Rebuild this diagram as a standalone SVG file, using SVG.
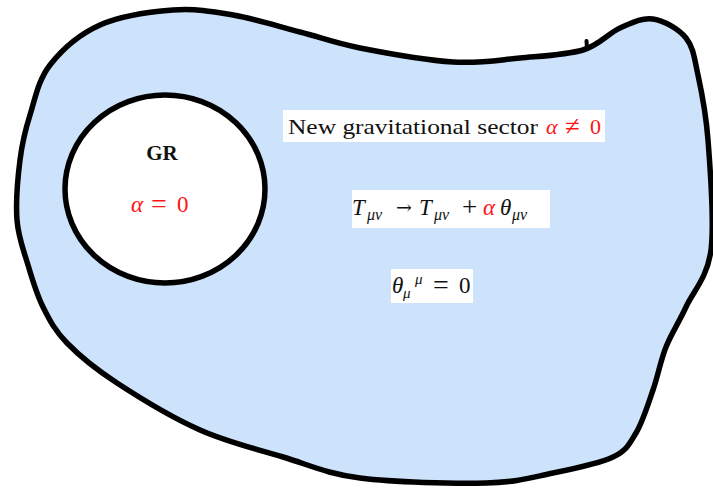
<svg xmlns="http://www.w3.org/2000/svg" width="713" height="489" viewBox="0 0 713 489">
<style>
.outline{stroke:#000;stroke-width:5.5;stroke-linejoin:round;stroke-linecap:round}
.box{fill:#fff}
.t{font-family:"Liberation Serif","DejaVu Serif",serif;fill:#111}
.m{font-family:"Liberation Serif","DejaVu Serif",serif;font-style:italic;fill:#111}
.r{fill:#ff1414}
</style>
<rect width="713" height="489" fill="#fff"/>
<g id="new-sector">
<path class="outline" fill="#cde3fb" d="M173,10 C195.2,8.3 211.8,11.3 233,15 C254.2,18.7 278.8,26.5 300,32 C321.2,37.5 334.5,43 360,48 C385.5,53 426.3,60.3 453,62 C479.7,63.7 498.3,60 520,58 C541.7,56 566.3,55 583,50 C599.7,45 608.3,33.2 620,28 C631.7,22.8 642,17.3 653,19 C664,20.7 678.5,28.7 686,38 C693.5,47.3 694.3,58 698,75 C701.7,92 705.8,110.8 708,140 C710.2,169.2 714.7,222.2 711,250 C707.3,277.8 693.5,290.8 686,307 C678.5,323.2 671.5,333.2 666,347 C660.5,360.8 658,375.7 653,390 C648,404.3 642.7,421.8 636,433 C629.3,444.2 626.8,450.3 613,457 C599.2,463.7 574.2,468.7 553,473 C531.8,477.3 518.2,482.2 486,483 C453.8,483.8 393.8,482.3 360,478 C326.2,473.7 309.7,465 283,457 C256.3,449 227.7,442.3 200,430 C172.3,417.7 139.2,397.5 117,383 C94.8,368.5 79.3,355.7 67,343 C54.7,330.3 49.5,320 43,307 C36.5,294 32.3,279.5 28,265 C23.7,250.5 18.3,237.5 17,220 C15.7,202.5 17.8,177.5 20,160 C22.2,142.5 25,130.8 30,115 C35,99.2 38.3,80 50,65 C61.7,50 79.5,34.2 100,25 C120.5,15.8 150.8,11.7 173,10 Z"/>
<path d="M587,48 L586.5,41" stroke="#000" stroke-width="4" stroke-linecap="round" fill="none"/>
</g>
<g id="gr-region">
<ellipse class="outline" fill="#fff" cx="165" cy="189" rx="100" ry="94"/>
<text class="t" x="162" y="160" font-size="21" font-weight="bold" text-anchor="middle">GR</text>
<text class="m r" x="131" y="212" font-size="23">α</text>
<text class="t r" x="151" y="213" font-size="28">=</text>
<text class="t r" x="177" y="212" font-size="23">0</text>
</g>
<g id="label-sector">
<rect class="box" x="283" y="110" width="322" height="32"/>
<text class="t" x="288" y="134" font-size="21" textLength="250" lengthAdjust="spacingAndGlyphs">New gravitational sector</text>
<text class="m r" x="546" y="134" font-size="22">α</text>
<text class="t r" x="565" y="135" font-size="27">≠</text>
<text class="t r" x="590" y="134" font-size="22">0</text>
</g>
<g id="eq-transform">
<rect class="box" x="352" y="190" width="198" height="38"/>
<text class="m" x="352" y="215" font-size="23">T</text>
<text class="m" x="367" y="220" font-size="16">μν</text>
<text x="396" y="214" font-size="19" font-family="DejaVu Serif, serif" fill="#111">→</text>
<text class="m" x="419" y="215" font-size="23">T</text>
<text class="m" x="434" y="220" font-size="16">μν</text>
<text class="t" x="462" y="216" font-size="27">+</text>
<text class="m r" x="483" y="215" font-size="23">α</text>
<text class="m" x="500" y="215" font-size="23">θ</text>
<text class="m" x="512" y="220" font-size="16">μν</text>
</g>
<g id="eq-trace">
<rect class="box" x="391" y="269" width="82" height="34"/>
<text class="m" x="392" y="293" font-size="23">θ</text>
<text class="m" x="403" y="298" font-size="15">μ</text>
<text class="m" x="415" y="284" font-size="15">μ</text>
<text class="t" x="433" y="294" font-size="28">=</text>
<text class="t" x="459" y="293" font-size="23">0</text>
</g>
</svg>
